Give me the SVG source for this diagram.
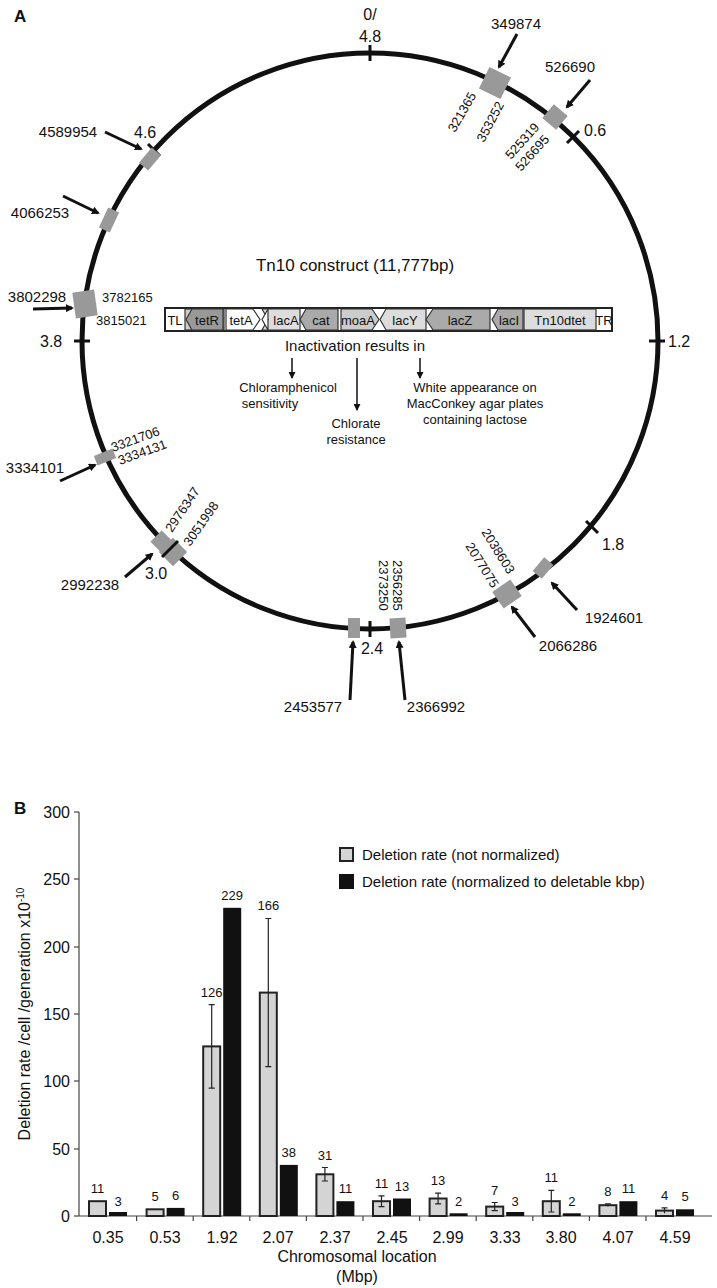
<svg xmlns="http://www.w3.org/2000/svg" width="717" height="1288" viewBox="0 0 717 1288">
<style>
text{font-family:"Liberation Sans",Arial,sans-serif;fill:#111}
.s{font-size:13px}.m{font-size:15px}.l{font-size:16px}
.box{fill:#999}
.arr{stroke:#111;stroke-width:3;fill:none;marker-end:url(#ah)}
.tk{stroke:#111;stroke-width:3}
.lb{fill:#d4d4d4;stroke:#222;stroke-width:2}
.db{fill:#111}
.eb{stroke:#222;stroke-width:1.2;fill:none}
.seg{stroke:#333;stroke-width:1.2}
.th{stroke:#111;stroke-width:1.5;fill:none;marker-end:url(#ah2)}
</style>
<defs>
<marker id="ah" markerWidth="8" markerHeight="8" refX="6" refY="4" orient="auto" markerUnits="userSpaceOnUse"><path d="M0,0L8,4L0,8z" fill="#111"/></marker>
<marker id="ah2" markerWidth="7" markerHeight="7" refX="6" refY="3.5" orient="auto" markerUnits="userSpaceOnUse"><path d="M0,0L7,3.5L0,7z" fill="#111"/></marker>
</defs>
<text x="14" y="22" style="font-size:17px;font-weight:bold">A</text>
<g id="chromosome">
<circle cx="370" cy="341" r="288" fill="none" stroke="#111" stroke-width="5"/>
<line class="tk" x1="370" y1="45" x2="370" y2="61"/><text class="l" x="370" y="20" text-anchor="middle">0/</text><text class="l" x="370" y="42" text-anchor="middle">4.8</text>
<line class="tk" x1="567" y1="143" x2="579" y2="131"/><text class="l" x="584" y="136">0.6</text>
<line class="tk" x1="649" y1="341" x2="665" y2="341"/><text class="l" x="668" y="347">1.2</text>
<line class="tk" x1="586" y1="521" x2="598" y2="533"/><text class="l" x="602" y="550">1.8</text>
<line class="tk" x1="370" y1="621" x2="370" y2="637"/><text class="l" x="372" y="654" text-anchor="middle">2.4</text>
<line class="tk" x1="164" y1="555" x2="176" y2="543"/><text class="l" x="145" y="579">3.0</text>
<line class="tk" x1="74" y1="341" x2="90" y2="341"/><text class="l" x="40" y="347">3.8</text>
<line class="tk" x1="148" y1="144" x2="160" y2="156"/><text class="l" x="134" y="138">4.6</text>
</g>
<g id="sites">
<rect class="box" x="-12" y="-12" width="24" height="24" transform="translate(495,83) rotate(26)"/>
<rect class="box" x="-9" y="-9" width="18" height="18" transform="translate(555,117) rotate(40)"/>
<rect class="box" x="-10" y="-6" width="20" height="12" transform="translate(150,159) rotate(-50)"/>
<rect class="box" x="-11" y="-6" width="22" height="12" transform="translate(109,220) rotate(-65)"/>
<rect class="box" x="-11" y="-13" width="22" height="26" transform="translate(85,304) rotate(-8)"/>
<rect class="box" x="-10" y="-5" width="20" height="10" transform="translate(105,457) rotate(-22)"/>
<rect class="box" x="-8" y="-7" width="16" height="14" transform="translate(161,541) rotate(-45)"/>
<rect class="box" x="-10" y="-10" width="20" height="20" transform="translate(173,552) rotate(-45)"/>
<line class="tk" x1="162" y1="557" x2="178" y2="541"/>
<rect class="box" x="-6" y="-10" width="12" height="20" transform="translate(354,628)"/>
<rect class="box" x="-8" y="-10" width="16" height="20" transform="translate(398,628) rotate(-3)"/>
<rect class="box" x="-9" y="-6" width="18" height="12" transform="translate(543,568) rotate(-50)"/>
<rect class="box" x="-11" y="-10" width="22" height="20" transform="translate(507,594) rotate(-35)"/>
<text class="s" transform="translate(455,133) rotate(-60)">321365</text>
<text class="s" transform="translate(484,143) rotate(-62)">353252</text>
<text class="s" transform="translate(511,160) rotate(-48)">525319</text>
<text class="s" transform="translate(521,172) rotate(-48)">526695</text>
<text class="s" x="102" y="302">3782165</text>
<text class="s" x="96" y="325">3815021</text>
<text class="s" transform="translate(113,452) rotate(-20)">3321706</text>
<text class="s" transform="translate(120,465) rotate(-20)">3334131</text>
<text class="s" transform="translate(172,533) rotate(-56)">2976347</text>
<text class="s" transform="translate(190,547) rotate(-55)">3051998</text>
<text class="s" transform="translate(393,560) rotate(90)">2356285</text>
<text class="s" transform="translate(379,560) rotate(90)">2373250</text>
<text class="s" transform="translate(481,532) rotate(58)">2038603</text>
<text class="s" transform="translate(465,546) rotate(58)">2077075</text>
<text class="m" x="516" y="29" text-anchor="middle">349874</text>
<text class="m" x="570" y="72" text-anchor="middle">526690</text>
<text class="m" x="68" y="137" text-anchor="middle">4589954</text>
<text class="m" x="40" y="218" text-anchor="middle">4066253</text>
<text class="m" x="37" y="302" text-anchor="middle">3802298</text>
<text class="m" x="35" y="473" text-anchor="middle">3334101</text>
<text class="m" x="90" y="590" text-anchor="middle">2992238</text>
<text class="m" x="313" y="712" text-anchor="middle">2453577</text>
<text class="m" x="436" y="712" text-anchor="middle">2366992</text>
<text class="m" x="568" y="651" text-anchor="middle">2066286</text>
<text class="m" x="614" y="623" text-anchor="middle">1924601</text>
</g>
<g id="connectors">
<line class="arr" x1="517" y1="34" x2="499" y2="67"/>
<line class="arr" x1="590" y1="80" x2="567" y2="107"/>
<line class="arr" x1="105" y1="132" x2="141" y2="149"/>
<line class="arr" x1="63" y1="196" x2="98" y2="213"/>
<line class="arr" x1="33" y1="309" x2="72" y2="308"/>
<line class="arr" x1="60" y1="481" x2="95" y2="465"/>
<line class="arr" x1="125" y1="577" x2="152" y2="554"/>
<line class="arr" x1="350" y1="700" x2="353" y2="642"/>
<line class="arr" x1="405" y1="700" x2="399" y2="642"/>
<line class="arr" x1="535" y1="637" x2="512" y2="607"/>
<line class="arr" x1="577" y1="610" x2="552" y2="583"/>
<line class="th" x1="292" y1="358" x2="292" y2="378"/>
<line class="th" x1="357" y1="358" x2="357" y2="410"/>
<line class="th" x1="420" y1="358" x2="420" y2="378"/>
</g>
<g id="construct">
<text x="355" y="271" text-anchor="middle" style="font-size:17px">Tn10 construct (11,777bp)</text>
<rect x="165" y="308" width="447" height="23" fill="#fff" stroke="#222" stroke-width="2"/>
<rect class="seg" x="185" y="309" width="39" height="21" fill="#ccc"/>
<path class="seg" d="M192,309H223V330H192L186,319.5Z" fill="#999"/>
<path class="seg" d="M226,309H253L260,319.5L253,330H226Z" fill="#fff"/>
<path class="seg" d="M262,309H300V330H262L268,319.5L262,309" fill="#ddd"/>
<path class="seg" d="M268,309L262,319.5L268,330Z" fill="#fff"/>
<path class="seg" d="M306,309H338V330H306L300,319.5Z" fill="#aaa"/>
<path class="seg" d="M341,309H372L379,319.5L372,330H341Z" fill="#ccc"/>
<path class="seg" d="M386,309H426V330H386L380,319.5Z" fill="#ddd"/>
<path class="seg" d="M433,309H490V330H433L426,319.5Z" fill="#aaa"/>
<path class="seg" d="M498,309H523V330H498L492,319.5Z" fill="#aaa"/>
<rect class="seg" x="524" y="309" width="72" height="21" fill="#ddd"/>
<text class="s" x="175" y="325" text-anchor="middle">TL</text>
<text class="s" x="207" y="325" text-anchor="middle">tetR</text>
<text class="s" x="241" y="325" text-anchor="middle">tetA</text>
<text class="s" x="286" y="325" text-anchor="middle">lacA</text>
<text class="s" x="321" y="325" text-anchor="middle">cat</text>
<text class="s" x="358" y="325" text-anchor="middle">moaA</text>
<text class="s" x="405" y="325" text-anchor="middle">lacY</text>
<text class="s" x="460" y="325" text-anchor="middle">lacZ</text>
<text class="s" x="509" y="325" text-anchor="middle">lacI</text>
<text class="s" x="560" y="325" text-anchor="middle">Tn10dtet</text>
<text class="s" x="604" y="325" text-anchor="middle">TR</text>
<text class="m" x="355" y="351" text-anchor="middle">Inactivation results in</text>
<text class="s" x="288" y="392" text-anchor="middle">Chloramphenicol</text>
<text class="s" x="270" y="408" text-anchor="middle">sensitivity</text>
<text class="s" x="356" y="428" text-anchor="middle">Chlorate</text>
<text class="s" x="356" y="444" text-anchor="middle">resistance</text>
<text class="s" x="475" y="392" text-anchor="middle">White appearance on</text>
<text class="s" x="475" y="408" text-anchor="middle">MacConkey agar plates</text>
<text class="s" x="475" y="424" text-anchor="middle">containing lactose</text>
</g>
<g id="chart">
<text x="14" y="814" style="font-size:17px;font-weight:bold">B</text>
<line x1="79" y1="812" x2="79" y2="1216" stroke="#444" stroke-width="1.2"/>
<line x1="79" y1="1216" x2="712" y2="1216" stroke="#444" stroke-width="1.2"/>
<g stroke="#444" stroke-width="1.2">
<line x1="74" y1="1216" x2="79" y2="1216"/><line x1="74" y1="1149" x2="79" y2="1149"/><line x1="74" y1="1081" x2="79" y2="1081"/><line x1="74" y1="1014" x2="79" y2="1014"/><line x1="74" y1="947" x2="79" y2="947"/><line x1="74" y1="879" x2="79" y2="879"/><line x1="74" y1="812" x2="79" y2="812"/>
<line x1="136.6" y1="1216" x2="136.6" y2="1221"/><line x1="193.2" y1="1216" x2="193.2" y2="1221"/><line x1="249.8" y1="1216" x2="249.8" y2="1221"/><line x1="306.4" y1="1216" x2="306.4" y2="1221"/><line x1="363" y1="1216" x2="363" y2="1221"/><line x1="419.6" y1="1216" x2="419.6" y2="1221"/><line x1="476.2" y1="1216" x2="476.2" y2="1221"/><line x1="532.8" y1="1216" x2="532.8" y2="1221"/><line x1="589.4" y1="1216" x2="589.4" y2="1221"/><line x1="646" y1="1216" x2="646" y2="1221"/>
</g>
<g class="l" text-anchor="end">
<text x="70" y="1222">0</text><text x="70" y="1155">50</text><text x="70" y="1087">100</text><text x="70" y="1020">150</text><text x="70" y="953">200</text><text x="70" y="885">250</text><text x="70" y="818">300</text>
</g>
<text class="l" transform="translate(30,1014) rotate(-90)" text-anchor="middle">Deletion rate /cell /generation x10<tspan dy="-6" style="font-size:10px">-10</tspan></text>
<rect class="lb" x="340" y="848" width="13" height="13"/><text class="m" x="362" y="860">Deletion rate (not normalized)</text>
<rect class="db" x="339" y="874" width="15" height="15"/><text class="m" x="362" y="887">Deletion rate (normalized to deletable kbp)</text>
<rect class="lb" x="89" y="1201.2" width="17" height="14.8"/><rect class="db" x="109" y="1212" width="18" height="4"/>
<rect class="lb" x="146.6" y="1209.3" width="17" height="6.7"/><rect class="db" x="166.6" y="1207.9" width="18" height="8.1"/>
<rect class="lb" x="203.2" y="1046.4" width="17" height="169.6"/><rect class="db" x="223.2" y="907.8" width="18" height="308.2"/>
<rect class="lb" x="259.8" y="992.6" width="17" height="223.4"/><rect class="db" x="279.8" y="1164.9" width="18" height="51.1"/>
<rect class="lb" x="316.4" y="1174.3" width="17" height="41.7"/><rect class="db" x="336.4" y="1201.2" width="18" height="14.8"/>
<rect class="lb" x="373" y="1201.2" width="17" height="14.8"/><rect class="db" x="393" y="1198.5" width="18" height="17.5"/>
<rect class="lb" x="429.6" y="1198.5" width="17" height="17.5"/><rect class="db" x="449.6" y="1213.3" width="18" height="2.7"/>
<rect class="lb" x="486.2" y="1206.6" width="17" height="9.4"/><rect class="db" x="506.2" y="1212" width="18" height="4"/>
<rect class="lb" x="542.8" y="1201.2" width="17" height="14.8"/><rect class="db" x="562.8" y="1213.3" width="18" height="2.7"/>
<rect class="lb" x="599.4" y="1205.2" width="17" height="10.8"/><rect class="db" x="619.4" y="1201.2" width="18" height="14.8"/>
<rect class="lb" x="656" y="1210.6" width="17" height="5.4"/><rect class="db" x="676" y="1209.3" width="18" height="6.7"/>
<path class="eb" d="M211.7,1004.7V1088.1M208.7,1004.7H214.7M208.7,1088.1H214.7
M268.3,918.5V1066.6M265.3,918.5H271.3M265.3,1066.6H271.3
M324.9,1167.5V1181M321.9,1167.5H327.9M321.9,1181H327.9
M381.5,1195.8V1206.6M378.5,1195.8H384.5M378.5,1206.6H384.5
M438.1,1193.1V1203.9M435.1,1193.1H441.1M435.1,1203.9H441.1
M494.7,1202.5V1210.6M491.7,1202.5H497.7M491.7,1210.6H497.7
M551.3,1190.4V1212M548.3,1190.4H554.3M548.3,1212H554.3
M607.9,1203.9V1206.6M604.9,1203.9H610.9
M664.5,1207.9V1213.3M661.5,1207.9H667.5"/>
<g class="s" text-anchor="middle">
<text x="97.5" y="1193">11</text><text x="118" y="1206">3</text>
<text x="155" y="1201">5</text><text x="175.6" y="1200">6</text>
<text x="211.7" y="997">126</text><text x="232.2" y="900">229</text>
<text x="268.3" y="910">166</text><text x="288.8" y="1157">38</text>
<text x="324.9" y="1160">31</text><text x="345.4" y="1193">11</text>
<text x="381.5" y="1188">11</text><text x="402" y="1191">13</text>
<text x="438.1" y="1185">13</text><text x="458.6" y="1206">2</text>
<text x="494.7" y="1195">7</text><text x="515.2" y="1206">3</text>
<text x="551.3" y="1182">11</text><text x="571.8" y="1206">2</text>
<text x="607.9" y="1196">8</text><text x="628.4" y="1193">11</text>
<text x="664.5" y="1200">4</text><text x="685" y="1201">5</text>
</g>
<g class="l" text-anchor="middle">
<text x="108" y="1243">0.35</text><text x="165" y="1243">0.53</text><text x="222" y="1243">1.92</text><text x="278" y="1243">2.07</text><text x="335" y="1243">2.37</text><text x="392" y="1243">2.45</text><text x="448" y="1243">2.99</text><text x="505" y="1243">3.33</text><text x="561" y="1243">3.80</text><text x="618" y="1243">4.07</text><text x="675" y="1243">4.59</text>
</g>
<text class="l" x="357" y="1262" text-anchor="middle">Chromosomal location</text>
<text class="l" x="357" y="1282" text-anchor="middle">(Mbp)</text>
</g>
</svg>
